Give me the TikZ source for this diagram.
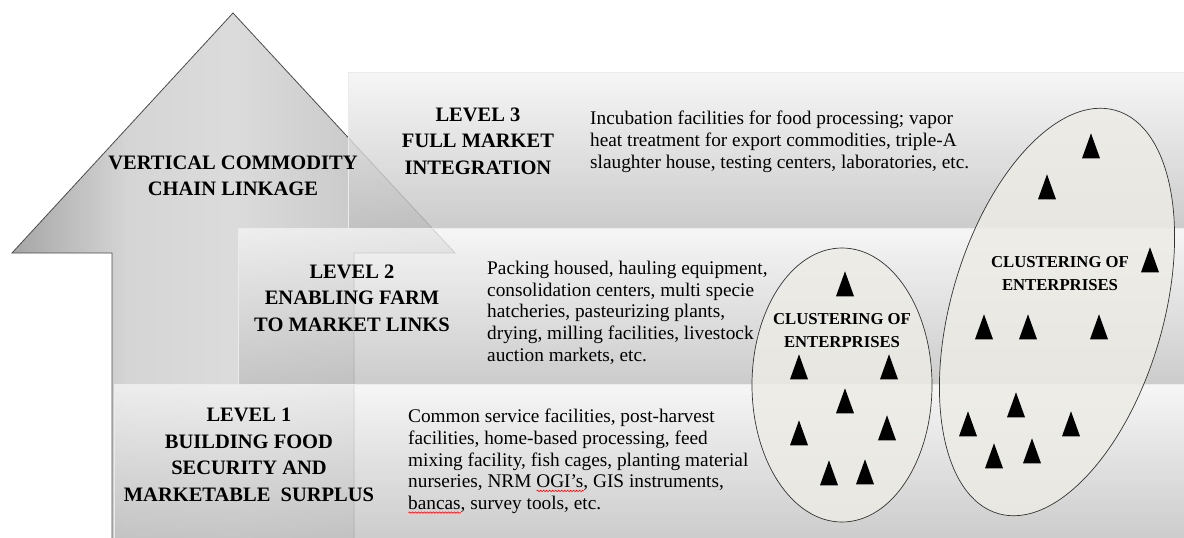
\documentclass[tikz,border=0pt]{standalone}
\usepackage{fontspec}
\setmainfont{Liberation Serif}
\usepackage{tikz}
\usetikzlibrary{shapes.geometric,positioning,decorations.pathmorphing}

\definecolor{clusfill}{RGB}{236,235,229}
\pgfdeclarehorizontalshading{arrowshade}{100bp}{color(0bp)=(gray!70); color(25bp)=(gray!70);
  color(38bp)=(gray!33); color(50bp)=(gray!28); color(75bp)=(gray!52); color(100bp)=(gray!52)}

\tikzset{
  headtxt/.style={font=\bfseries\fontsize{20.5}{26.5}\selectfont, align=center, inner sep=0pt},
  desctxt/.style={font=\fontsize{19.3}{21.7}\selectfont, align=left, anchor=north west, inner sep=0pt},
  clustxt/.style={font=\bfseries\fontsize{16.7}{23}\selectfont, align=center, inner sep=0pt},
  levelbox/.style={top color=gray!9, bottom color=gray!50, fill opacity=0.8, draw=white!92!black, line width=0.8pt},
  cluster/.style={fill=clusfill, fill opacity=0.85, draw=black!80, line width=0.7pt},
  tri/.style={isosceles triangle, shape border rotate=90, fill=black, inner sep=0pt,
    isosceles triangle stretches, minimum height=25pt, minimum width=18pt},
  typoline/.style={red, line width=0.6pt, decorate, decoration={snake, amplitude=0.7pt, segment length=3pt}}
}
\newcommand{\typo}[1]{\setbox0=\hbox{#1}\rlap{\tikz[baseline=0pt]\draw[typoline] (0pt,-3pt) -- (\wd0,-3pt);}\box0}

\begin{document}
\begin{tikzpicture}[x=1pt, y=-1pt]
  \useasboundingbox (0,0) rectangle (1184,538);

  % the big arrow
  \shade[shading=arrowshade, draw=black!70, line width=0.8pt]
    (233,13) -- (455,253) -- (354,253) -- (354,540) -- (112,540) -- (112,253) -- (12,253) -- cycle;

  % the three levels
  \path[levelbox] (348,72) rectangle (1186,228);
  \path[levelbox] (238,228) rectangle (1186,384);
  \path[levelbox] (114,384) rectangle (1186,540);

  % clusters
  \path[cluster] (842,385) ellipse [x radius=90, y radius=137];
  \path[cluster, rotate around={-16.3:(1057,312)}] (1057,312) ellipse [x radius=106, y radius=210];

  \foreach \px/\py [count=\i] in {845/290, 799/373, 889/373, 845/407, 799/439, 887/434, 829/479, 865/478,
      1150/266, 984/333, 1028/333, 1099/333, 1016/411, 968/430, 1071/430, 994/462, 1032/457, 1091/152, 1047/193}
    \node[tri] (tri\i) at (\px,\py) {};

  % texts
  \node[headtxt] (vcl) at (233,176) {VERTICAL COMMODITY\\CHAIN LINKAGE};
  \node[headtxt] (lev3) at (478,141) {LEVEL 3\\FULL MARKET\\INTEGRATION};
  \node[headtxt] (lev2) at (352,298) {LEVEL 2\\ENABLING FARM\\TO MARKET LINKS};
  \node[headtxt] (lev1) at (249,455) {LEVEL 1\\BUILDING FOOD\\SECURITY AND\\MARKETABLE~ SURPLUS};

  \node[desctxt] (desc3) at (590,111) {Incubation facilities for food processing; vapor\\
    heat treatment for export commodities, triple-A\\
    slaughter house, testing centers, laboratories, etc.};
  \node[desctxt] (desc2) at (487,261) {Packing housed, hauling equipment,\\
    consolidation centers, multi specie\\
    hatcheries, pasteurizing plants,\\
    drying, milling facilities, livestock\\
    auction markets, etc.};
  \node[desctxt] (desc1) at (408,409) {Common service facilities, post-harvest\\
    facilities, home-based processing, feed\\
    mixing facility, fish cages, planting material\\
    nurseries, NRM \typo{OGI’s}, GIS instruments,\\
    \typo{bancas}, survey tools, etc.};

  \node[clustxt] (clu1) at (842,331) {CLUSTERING OF\\ENTERPRISES};
  \node[clustxt] (clu2) at (1060,274) {CLUSTERING OF\\ENTERPRISES};
\end{tikzpicture}
\end{document}
